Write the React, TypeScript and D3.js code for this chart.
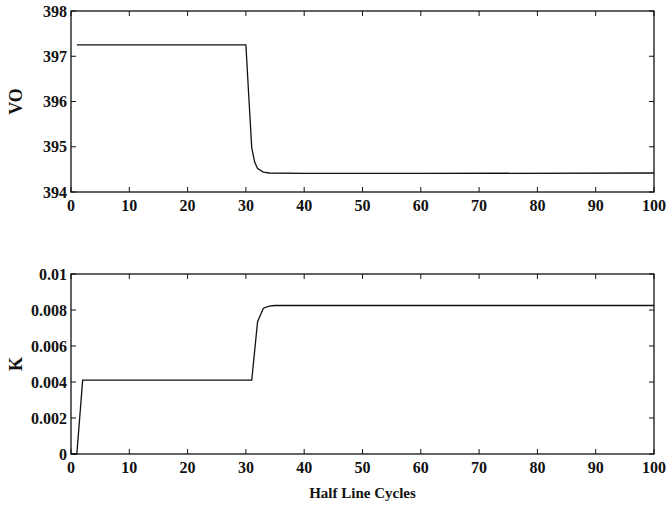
import { useRef, useEffect } from "react";
import * as d3 from "d3";

// output voltage (top panel)
const voCycles = [1, 30, 30.5, 31, 31.5, 32, 33, 34, 40, 60, 100];
const voValues = [397.25, 397.25, 396.1, 394.98, 394.66, 394.52, 394.44, 394.42, 394.41, 394.41, 394.42];

// gain K (bottom panel)
const kCycles = [0, 1, 2, 31, 32, 33, 34, 35, 60, 100];
const kValues = [0, 0, 0.0041, 0.0041, 0.00735, 0.0081, 0.00822, 0.00825, 0.00825, 0.00825];

const xTicks = [0, 10, 20, 30, 40, 50, 60, 70, 80, 90, 100];
const voTicks = [394, 395, 396, 397, 398];
const kTicks = [0, 0.002, 0.004, 0.006, 0.008, 0.01];
const kTickLabels = ["0", "0.002", "0.004", "0.006", "0.008", "0.01"];

const App: React.FC = () => {
    const svgRef = useRef<SVGSVGElement | null>(null);

    useEffect(() => {
        if (!svgRef.current) return;
        const width = 671;
        const height = 505;
        const left = 71;
        const right = 654;
        const tickLen = 5;
        const font = "Liberation Serif, DejaVu Serif, serif";
        const labelSize = 16;

        const svg = d3.select(svgRef.current);
        svg.selectAll("*").remove();
        svg.attr("width", width).attr("height", height);

        const x = d3.scaleLinear().domain([0, 100]).range([left, right]);

        const panel = (
            top: number,
            bottom: number,
            domain: [number, number],
            yTicks: number[],
            yLabels: string[],
            xs: number[],
            ys: number[],
            title: string,
        ) => {
            const y = d3.scaleLinear().domain(domain).range([bottom, top]);
            const g = svg.append("g");

            // data line
            const line = d3
                .line<number>()
                .x((_d, i) => x(xs[i]))
                .y((d) => y(d));
            g.append("path")
                .datum(ys)
                .attr("d", line)
                .attr("fill", "none")
                .attr("stroke", "#111")
                .attr("stroke-width", 1.3);

            // box
            g.append("rect")
                .attr("x", left)
                .attr("y", top)
                .attr("width", right - left)
                .attr("height", bottom - top)
                .attr("fill", "none")
                .attr("stroke", "#111")
                .attr("stroke-width", 1.3);

            // x ticks, bottom and top, inward
            xTicks.forEach((t) => {
                g.append("line")
                    .attr("x1", x(t)).attr("x2", x(t))
                    .attr("y1", bottom).attr("y2", bottom - tickLen)
                    .attr("stroke", "#111");
                g.append("line")
                    .attr("x1", x(t)).attr("x2", x(t))
                    .attr("y1", top).attr("y2", top + tickLen)
                    .attr("stroke", "#111");
                g.append("text")
                    .attr("x", x(t))
                    .attr("y", bottom + 19)
                    .attr("text-anchor", "middle")
                    .attr("font-family", font)
                    .attr("font-weight", "bold")
                    .attr("font-size", labelSize)
                    .attr("fill", "#111")
                    .text(String(t));
            });

            // y ticks, left and right, inward
            yTicks.forEach((t, i) => {
                g.append("line")
                    .attr("x1", left).attr("x2", left + tickLen)
                    .attr("y1", y(t)).attr("y2", y(t))
                    .attr("stroke", "#111");
                g.append("line")
                    .attr("x1", right).attr("x2", right - tickLen)
                    .attr("y1", y(t)).attr("y2", y(t))
                    .attr("stroke", "#111");
                g.append("text")
                    .attr("x", left - 4)
                    .attr("y", y(t))
                    .attr("dy", "0.35em")
                    .attr("text-anchor", "end")
                    .attr("font-family", font)
                    .attr("font-weight", "bold")
                    .attr("font-size", labelSize)
                    .attr("fill", "#111")
                    .text(yLabels[i]);
            });

            g.append("text")
                .attr("transform", `translate(22,${(top + bottom) / 2}) rotate(-90)`)
                .attr("text-anchor", "middle")
                .attr("font-family", font)
                .attr("font-weight", "bold")
                .attr("font-size", 18)
                .attr("fill", "#111")
                .text(title);
        };

        panel(11, 192, [394, 398], voTicks, voTicks.map(String), voCycles, voValues, "VO");
        panel(274, 454, [0, 0.01], kTicks, kTickLabels, kCycles, kValues, "K");

        svg.append("text")
            .attr("x", x(50))
            .attr("y", 498)
            .attr("text-anchor", "middle")
            .attr("font-family", font)
            .attr("font-weight", "bold")
            .attr("font-size", 15)
            .attr("fill", "#111")
            .text("Half Line Cycles");
    }, []);

    return (
        <svg
            ref={svgRef}
            style={{ position: "absolute", left: 0, top: 0, background: "#fff" }}
        />
    );
};

export default App;
